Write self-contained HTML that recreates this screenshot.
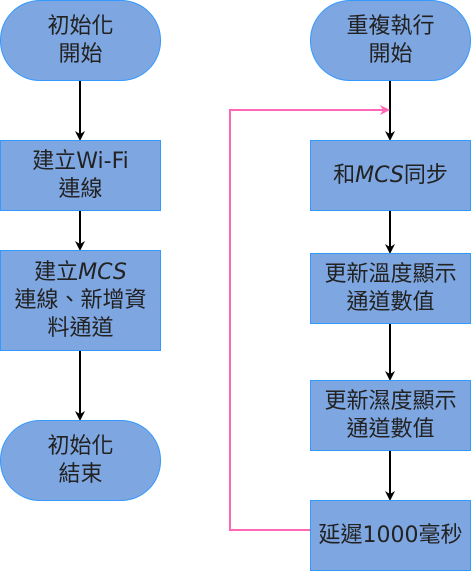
<!DOCTYPE html>
<html><head><meta charset="utf-8"><style>
body{margin:0;width:471px;height:571px;background:#fff;position:relative;overflow:hidden}
.n{position:absolute;box-sizing:border-box;background:#7EA6E0;border:1.5px solid #3399FF;display:flex;align-items:center;justify-content:center;text-align:center;color:#222;font-family:"DejaVu Sans","Noto Sans CJK TC",sans-serif;font-size:22px;line-height:28px;white-space:nowrap}
.s{border-radius:40px}
svg{position:absolute;left:0;top:0}
</style></head><body>
<svg width="471" height="571">
<defs><marker id="a" markerWidth="10" markerHeight="10" refX="8" refY="5" orient="auto" markerUnits="userSpaceOnUse"><path d="M0,0 L10,5 L0,10 L3,5z" fill="#000"/></marker>
<marker id="p" markerWidth="10" markerHeight="10" refX="8" refY="5" orient="auto" markerUnits="userSpaceOnUse"><path d="M0,0 L10,5 L0,10 L3,5z" fill="#FF66B3"/></marker></defs>
<g stroke="#000" stroke-width="2" fill="none">
<line x1="80" y1="80" x2="80" y2="139" marker-end="url(#a)"/>
<line x1="80" y1="210" x2="80" y2="249" marker-end="url(#a)"/>
<line x1="80" y1="350" x2="80" y2="419" marker-end="url(#a)"/>
<line x1="390" y1="80" x2="390" y2="139" marker-end="url(#a)"/>
<line x1="390" y1="210" x2="390" y2="252" marker-end="url(#a)"/>
<line x1="390" y1="323" x2="390" y2="379" marker-end="url(#a)"/>
<line x1="390" y1="450" x2="390" y2="499" marker-end="url(#a)"/>
</g>
<polyline points="310,530 230,530 230,110 388,110" stroke="#FF66B3" stroke-width="2" fill="none" marker-end="url(#p)"/>
</svg>
<div class="n s" style="left:0;top:0;width:161px;height:81px"><span>初始化<br>開始</span></div>
<div class="n" style="left:0;top:140px;width:161px;height:71px"><span>建立Wi-Fi<br>連線</span></div>
<div class="n" style="left:0;top:250px;width:161px;height:101px"><span>建立<i>MCS</i><br>連線、新增資<br>料通道</span></div>
<div class="n s" style="left:0;top:420px;width:161px;height:81px"><span>初始化<br>結束</span></div>
<div class="n s" style="left:310px;top:0;width:161px;height:81px"><span>重複執行<br>開始</span></div>
<div class="n" style="left:310px;top:140px;width:161px;height:71px"><span>和<i>MCS</i>同步</span></div>
<div class="n" style="left:310px;top:253px;width:161px;height:71px"><span>更新溫度顯示<br>通道數值</span></div>
<div class="n" style="left:310px;top:380px;width:161px;height:71px"><span>更新濕度顯示<br>通道數值</span></div>
<div class="n" style="left:310px;top:500px;width:161px;height:71px"><span>延遲1000毫秒</span></div>
</body></html>
